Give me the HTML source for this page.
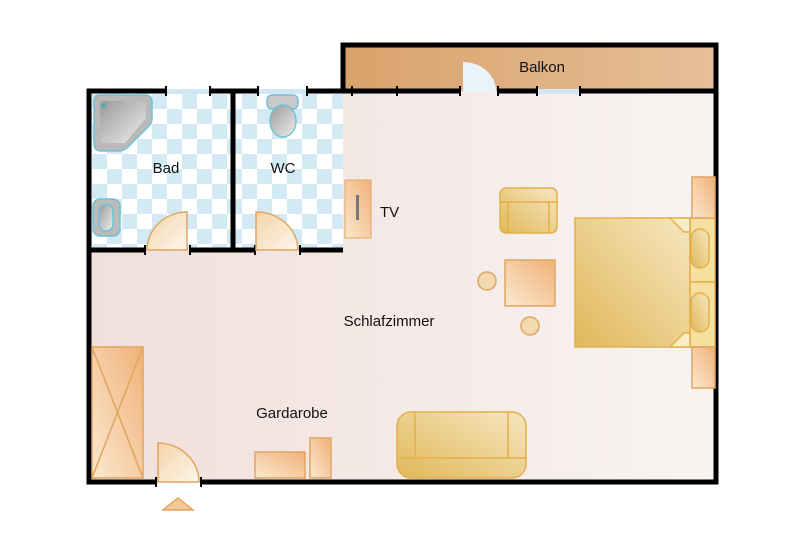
<!DOCTYPE html>
<html><head><meta charset="utf-8"><style>
html,body{margin:0;padding:0;background:#fff;width:800px;height:533px;overflow:hidden}
svg{display:block}
text{font-family:"Liberation Sans",sans-serif;font-size:15px;fill:#111}
</style></head><body>
<svg width="800" height="533" viewBox="0 0 800 533" xmlns="http://www.w3.org/2000/svg">
<defs>
<pattern id="chk" x="92" y="94" width="30" height="30" patternUnits="userSpaceOnUse">
<rect width="30" height="30" fill="#fff"/>
<rect width="15" height="15" fill="#d3eaf5"/>
<rect x="15" y="15" width="15" height="15" fill="#d3eaf5"/>
</pattern>
<linearGradient id="room" x1="0" x2="1" y1="0" y2="0">
<stop offset="0" stop-color="#f1dfdb"/><stop offset="1" stop-color="#f8f4f2"/></linearGradient>
<linearGradient id="balk" x1="0" x2="1"><stop offset="0" stop-color="#d9a26b"/><stop offset="1" stop-color="#e6bf98"/></linearGradient>
<linearGradient id="gold" x1="0" y1="1" x2="1" y2="0"><stop offset="0" stop-color="#e0b85a"/><stop offset="1" stop-color="#f7e6c0"/></linearGradient>
<linearGradient id="peach" x1="0" y1="1" x2="1" y2="0"><stop offset="0" stop-color="#fbe8d0"/><stop offset="1" stop-color="#f0b178"/></linearGradient>
<linearGradient id="grey" x1="0" y1="0" x2="1" y2="1"><stop offset="0" stop-color="#9a9a9a"/><stop offset="1" stop-color="#eee"/></linearGradient>
<linearGradient id="door" x1="0" y1="0" x2="1" y2="1"><stop offset="0" stop-color="#f3d4a8"/><stop offset="1" stop-color="#fdf6ec"/></linearGradient>
</defs>
<!-- floors -->
<rect x="89" y="91" width="627" height="391" fill="url(#room)"/>
<rect x="89" y="91" width="254" height="159" fill="url(#chk)"/>
<rect x="343" y="45" width="373" height="46" fill="url(#balk)"/>
<!-- windows -->
<g fill="#cfe8f4">
<rect x="166" y="89" width="44" height="5"/><rect x="258" y="89" width="49" height="5"/>
<rect x="352" y="89" width="45" height="5"/><rect x="537" y="89" width="43" height="5"/>
</g>
<!-- balcony door -->
<path d="M463 91 L463 62 A33 29 0 0 1 496 91 Z" fill="#e8f4fa"/>
<!-- walls -->
<g stroke="#000" stroke-width="5" fill="none">
<path d="M343 91 L343 45 L716 45 L716 482 L201 482"/>
<path d="M156 482 L89 482 L89 91 L166 91"/>
<path d="M210 91 L258 91"/><path d="M307 91 L397 91"/><path d="M397 91 L460 91"/><path d="M498 91 L537 91"/><path d="M580 91 L716 91"/>
<path d="M89 250 L145 250"/><path d="M190 250 L255 250"/><path d="M300 250 L343 250"/>
<path d="M233 91 L233 250"/>
</g>
<g stroke="#000" stroke-width="2">
<path d="M166 86V96M210 86V96M258 86V96M307 86V96M352 86V96M397 86V96M460 86V96M498 86V96M537 86V96M580 86V96"/>
<path d="M145 245V255M190 245V255M255 245V255M300 245V255M156 477V487M201 477V487"/>
</g>
<!-- doors -->
<g fill="url(#door)" stroke="#e0a560" stroke-width="1.5">
<path d="M187 250 L187 212 A40 38 0 0 0 147 250 Z"/>
<path d="M256 250 L256 212 A42 38 0 0 1 298 250 Z"/>
<path d="M158 482 L158 443 A41 39 0 0 1 199 482 Z"/>
<path d="M163 510 L178 498 L193 510 Z" fill="#f3c99a"/>
</g>
<!-- bath fixtures -->
<g stroke="#6fc3d3" stroke-width="1.5">
<path d="M100 95 L145 95 Q152 95 152 102 L152 118 Q152 124 147 128 L128 147 Q124 151 118 151 L101 151 Q94 151 94 144 L94 101 Q94 95 100 95Z" fill="#b9b9b9"/>
<path d="M104 101 L142 101 Q146 101 146 105 L146 118 L125 143 L104 143 Q100 143 100 139 L100 105 Q100 101 104 101Z" fill="url(#grey)" stroke="none"/>
<circle cx="104" cy="106" r="2.5" fill="#5aa" stroke="none"/>
<rect x="93" y="199" width="27" height="37" rx="7" fill="#bbb"/>
<rect x="99" y="204" width="14" height="27" rx="7" fill="url(#grey)"/>
<rect x="267" y="95" width="31" height="14" rx="5" fill="#c9c9c9"/>
<ellipse cx="283" cy="121" rx="13" ry="16" fill="url(#grey)"/>
</g>
<!-- TV -->
<rect x="345" y="180" width="26" height="58" fill="url(#peach)" stroke="#e0a560"/>
<rect x="356" y="195" width="3" height="25" fill="#777"/>
<!-- living furniture -->
<g stroke="#e2b04a" stroke-width="1.5">
<rect x="500" y="188" width="57" height="45" rx="6" fill="url(#gold)"/>
<path d="M500 202 H557 M508 202 V233 M549 202 V233" fill="none"/>
<rect x="575" y="218" width="115" height="129" fill="url(#gold)"/>
<rect x="690" y="218" width="25" height="64" fill="#f7dfa0"/>
<rect x="690" y="282" width="25" height="65" fill="#f7dfa0"/>
<path d="M670 218 L690 218 L690 232 L684 232 L670 218Z M670 347 L690 347 L690 333 L684 333Z" fill="#f9ecc9"/>
<rect x="691" y="229" width="18" height="39" rx="9" fill="url(#gold)"/>
<rect x="691" y="293" width="18" height="39" rx="9" fill="url(#gold)"/>
<rect x="397" y="412" width="129" height="66" rx="14" fill="url(#gold)"/>
<path d="M397 458 H526 M415 412 V458 M508 412 V458" fill="none"/>
</g>
<g stroke="#e0a560" stroke-width="1.5">
<rect x="505" y="260" width="50" height="46" fill="url(#peach)"/>
<circle cx="487" cy="281" r="9" fill="#f3d9b0"/>
<circle cx="530" cy="326" r="9" fill="#f3d9b0"/>
<rect x="692" y="177" width="23" height="41" fill="url(#peach)"/>
<rect x="692" y="347" width="23" height="41" fill="url(#peach)"/>
<rect x="92" y="347" width="51" height="131" fill="url(#peach)"/>
<path d="M92 347 L143 478 M143 347 L92 478" fill="none"/>
<rect x="255" y="452" width="50" height="26" fill="url(#peach)"/>
<rect x="310" y="438" width="21" height="40" fill="url(#peach)"/>
</g>
<!-- labels -->
<text x="542" y="72" text-anchor="middle">Balkon</text>
<text x="166" y="173" text-anchor="middle">Bad</text>
<text x="283" y="173" text-anchor="middle">WC</text>
<text x="380" y="217">TV</text>
<text x="389" y="326" text-anchor="middle">Schlafzimmer</text>
<text x="292" y="418" text-anchor="middle">Gardarobe</text>
</svg>
</body></html>
